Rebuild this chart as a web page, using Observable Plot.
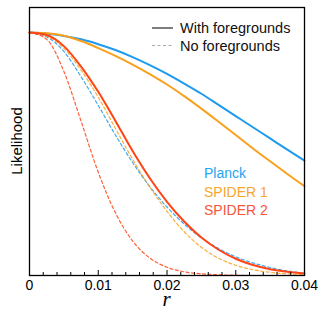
<!DOCTYPE html>
<html><head><meta charset="utf-8">
<script src="https://cdn.jsdelivr.net/npm/d3@7"></script>
<script src="https://cdn.jsdelivr.net/npm/@observablehq/plot@0.6"></script>
<style>
body{margin:0;background:#fff;}
#chart svg{font-family:"Liberation Sans",Arial,Helvetica,sans-serif;background:#fff;}
</style>
</head><body><div id="chart"></div>
<script>
// r grid
const rValues = [0,0.0025,0.005,0.0075,0.01,0.0125,0.015,0.0175,0.02,0.0225,0.025,0.0275,0.03,0.0325,0.035,0.0375,0.04];
// With foregrounds (solid)
const planckFg  = [1.0,0.996,0.986,0.972,0.952,0.928,0.899,0.866,0.830,0.790,0.748,0.702,0.656,0.610,0.564,0.518,0.473];
const spider1Fg = [1.0,0.997,0.987,0.965,0.936,0.904,0.868,0.829,0.786,0.738,0.687,0.633,0.578,0.523,0.470,0.418,0.368];
const spider2Fg = [1.0,0.990,0.944,0.860,0.756,0.636,0.512,0.400,0.303,0.222,0.156,0.106,0.069,0.043,0.026,0.015,0.008];
// No foregrounds (dashed)
const planckNoFg  = [1.0,0.982,0.922,0.818,0.700,0.578,0.465,0.366,0.282,0.212,0.155,0.111,0.077,0.052,0.033,0.019,0.009];
const spider1NoFg = [1.0,0.985,0.935,0.845,0.734,0.605,0.478,0.364,0.264,0.180,0.116,0.071,0.042,0.024,0.013,0.007,0.003];
const spider2NoFg = [1.0,0.972,0.840,0.635,0.425,0.258,0.142,0.072,0.034,0.015,0.007,0.003,0.001,0.0,0.0,0.0,0.0];

const seriesNames = ["Planck","SPIDER 1","SPIDER 2"];
const seriesColors = ["#1e9bef","#f9a01c","#ff4415"];
const labelColors = ["#26a3f3","#f8a52c","#f4563a"];
const legendLabels = ["With foregrounds","No foregrounds"];
const xTicks = [0,0.01,0.02,0.03,0.04];
const xTickLabels = ["0","0.01","0.02","0.03","0.04"];
const xMinorTicks = [0.002,0.004,0.006,0.008,0.012,0.014,0.016,0.018,0.022,0.024,0.026,0.028,0.032,0.034,0.036,0.038];
const xLabel = "r";
const yLabel = "Likelihood";

const fgSets = [planckFg, spider1Fg, spider2Fg];
const noFgSets = [planckNoFg, spider1NoFg, spider2NoFg];
const rowsFg = [], rowsNoFg = [];
seriesNames.forEach((s, i) => {
  rValues.forEach((r, j) => {
    rowsFg.push({r, L: fgSets[i][j], series: s});
    rowsNoFg.push({r, L: noFgSets[i][j], series: s});
  });
});

function overlay(index, scales, values, dims) {
  const g = d3.create("svg:g").attr("text-anchor", "start");
  const legend = [
    {label: legendLabels[0], y: 28, dash: null, stroke: "#707070", w: 1.8},
    {label: legendLabels[1], y: 45.5, dash: "3,2.5", stroke: "#a8a8a8", w: 1.1}
  ];
  for (const d of legend) {
    g.append("line").attr("x1", 152).attr("x2", 173).attr("y1", d.y).attr("y2", d.y)
      .attr("stroke", d.stroke).attr("stroke-width", d.w)
      .attr("stroke-dasharray", d.dash);
    g.append("text").attr("x", 180).attr("y", d.y).attr("dy", "0.36em")
      .attr("font-size", 14.5).attr("fill", "#111").text(d.label);
  }
  const ly = [173, 191.5, 210];
  seriesNames.forEach((s, i) => {
    g.append("text").attr("x", 204).attr("y", ly[i]).attr("dy", "0.36em")
      .attr("font-size", 14).attr("fill", labelColors[i]).text(s);
  });
  g.append("text").attr("text-anchor", "middle")
    .attr("transform", "translate(21.5,141) rotate(-90)")
    .attr("font-size", 15).attr("fill", "#000").text(yLabel);
  g.append("text").attr("text-anchor", "middle").attr("x", 166.5).attr("y", 306)
    .attr("font-size", 21).attr("font-style", "italic")
    .attr("font-family", "Liberation Serif, Times New Roman, serif")
    .attr("fill", "#000").text(xLabel);
  return g.node();
}

const chart = Plot.plot({
  width: 325,
  height: 310,
  marginLeft: 29,
  marginRight: 21,
  marginTop: 7,
  marginBottom: 35,
  x: {domain: [0, 0.04], axis: null},
  y: {domain: [0, 1.103], axis: null},
  color: {domain: seriesNames, range: seriesColors},
  marks: [
    Plot.line(rowsNoFg, {x: "r", y: "L", z: "series", stroke: "series", strokeWidth: 1.2, strokeDasharray: "3,2.5", strokeOpacity: 0.85, curve: "monotone-x"}),
    Plot.line(rowsFg, {x: "r", y: "L", z: "series", stroke: "series", strokeWidth: 2, curve: "monotone-x"}),
    Plot.frame({stroke: "#000", strokeWidth: 1.3}),
    Plot.axisX({ticks: xMinorTicks, tickSize: -3, tickFormat: () => "", label: null}),
    Plot.axisX({ticks: xTicks, tickSize: -5, tickFormat: () => "", label: null}),
    Plot.axisX({ticks: xTicks, tickSize: 0, tickPadding: 5, tickFormat: (d, i) => xTickLabels[i], fontSize: 14, label: null}),
    overlay
  ]
});
document.getElementById("chart").append(chart);
</script>
</body></html>
